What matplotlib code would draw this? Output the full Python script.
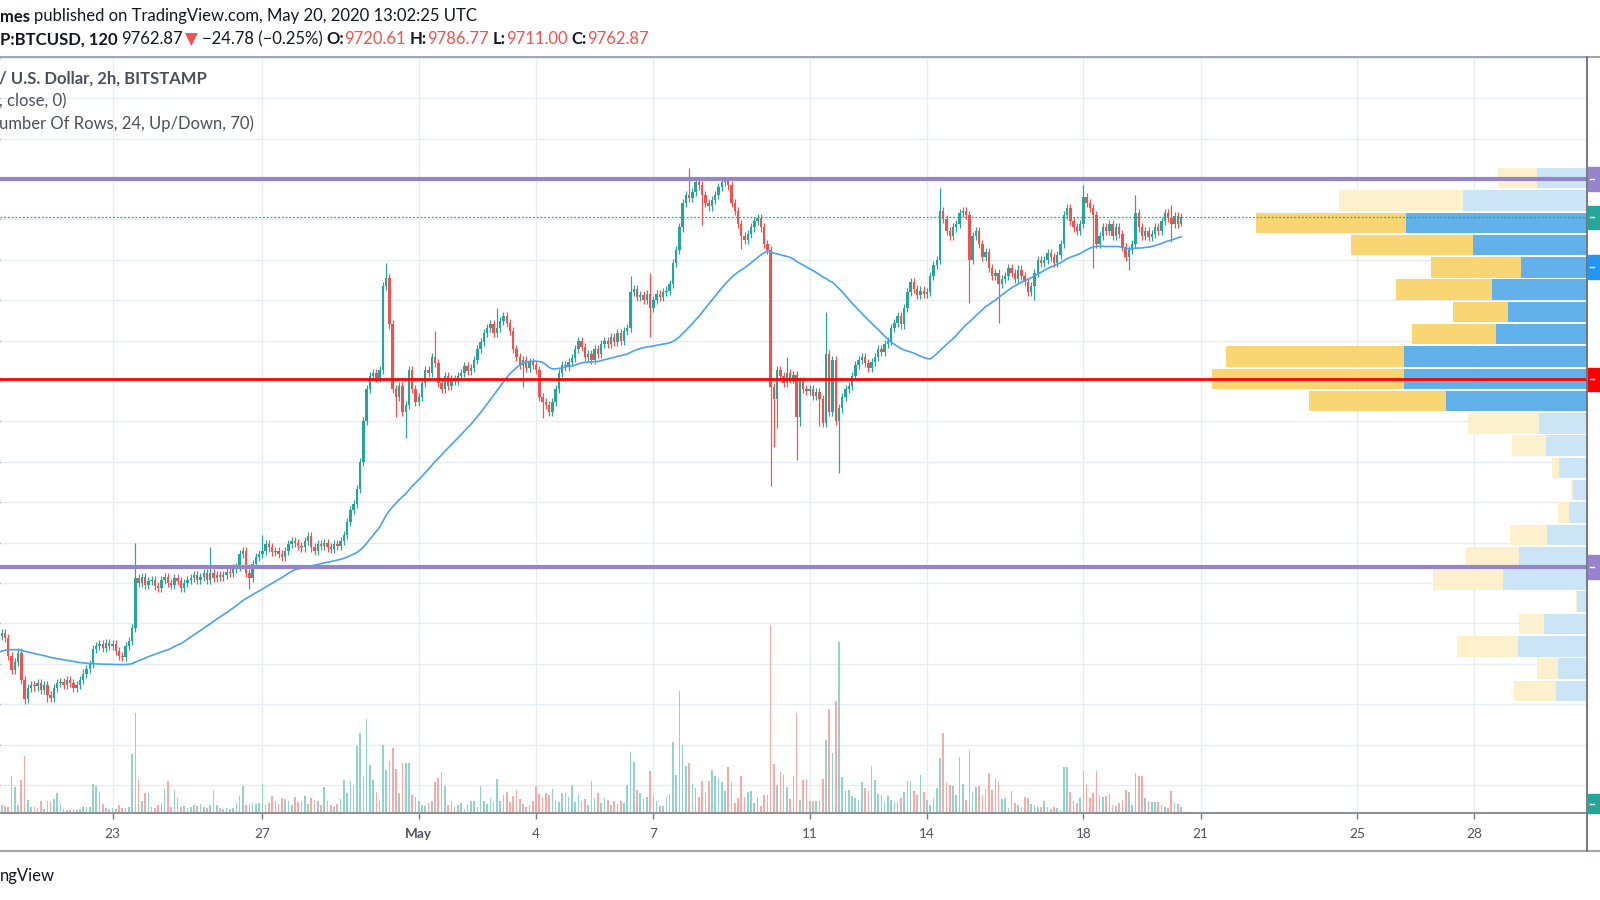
import numpy as np
import pandas as pd
import matplotlib
matplotlib.use("Agg")
import matplotlib.pyplot as plt
from matplotlib import transforms
from matplotlib.patches import Rectangle
from matplotlib.lines import Line2D

W, H = 1600, 900
FAM = ["Lato", "DejaVu Sans"]
plt.rcParams["font.family"] = FAM

# ---------------- data ----------------
# 2h closes before the visible window (only used for the 50-bar moving average)
prior_closes = [6850, 6880, 6900, 6950, 7000, 7050, 7080, 7100, 7090, 7110, 7080, 7100,
                7070, 7060, 7090, 7080, 7050, 7040, 7060, 7070, 7050, 7040, 7060, 7050,
                7040, 7060, 7080, 7100, 7120, 7150, 7170, 7160, 7150, 7130, 7120, 7100,
                7090, 7080, 7070, 7060, 7050, 7060, 7080, 7090, 7100, 7110, 7100, 7110, 7120]
first_open = 7120

# 2h closes, Apr 20 02:00 -> May 20 12:00 (two bars missing on Apr 25)
closes = (
    [7170, 7190, 7160, 7050, 6960, 7010, 7070, 6900, 6780, 6850, 6870] +                 # Apr 20
    [6860, 6880, 6840, 6870, 6810, 6790, 6850, 6880, 6890, 6870, 6900, 6880] +           # Apr 21
    [6850, 6870, 6900, 6940, 6970, 7000, 7090, 7110, 7120, 7100, 7130, 7110] +           # Apr 22
    [7120, 7080, 7050, 7040, 7110, 7140, 7220, 7530, 7500, 7540, 7490, 7510] +           # Apr 23
    [7520, 7480, 7470, 7520, 7540, 7500, 7490, 7530, 7510, 7470, 7500, 7520] +           # Apr 24
    [7530, 7550, 7520, 7540, 7560, 7520, 7560, 7530, 7550, 7540] +                       # Apr 25
    [7550, 7570, 7560, 7590, 7600, 7680, 7700, 7560, 7530, 7620, 7660, 7680] +           # Apr 26
    [7700, 7740, 7720, 7690, 7700, 7680, 7660, 7700, 7740, 7760, 7750, 7730] +           # Apr 27
    [7720, 7760, 7790, 7720, 7700, 7740, 7730, 7750, 7720, 7710, 7740, 7730] +           # Apr 28
    [7760, 7800, 7880, 7950, 7990, 8080, 8250, 8500, 8700, 8780, 8800, 8770] +           # Apr 29
    [8820, 9340, 9390, 9100, 8700, 8650, 8720, 8560, 8600, 8820, 8700, 8620] +           # Apr 30
    [8650, 8740, 8820, 8800, 8900, 8860, 8740, 8700, 8780, 8720, 8760, 8750] +           # May 1
    [8780, 8800, 8840, 8810, 8830, 8880, 8950, 8990, 9050, 9080, 9100, 9050] +           # May 2
    [9080, 9120, 9150, 9110, 9060, 8950, 8900, 8850, 8880, 8830, 8870, 8850] +           # May 3
    [8820, 8650, 8620, 8600, 8560, 8620, 8700, 8800, 8850, 8840, 8870, 8890] +           # May 4
    [8950, 9000, 8960, 8900, 8920, 8880, 8950, 8920, 8980, 9000, 8980, 9020] +           # May 5
    [8990, 9050, 9000, 9060, 9080, 9300, 9320, 9270, 9280, 9250, 9290, 9200] +           # May 6
    [9250, 9290, 9270, 9300, 9310, 9350, 9480, 9560, 9700, 9850, 9900, 9880] +           # May 7
    [9920, 9980, 9960, 9900, 9850, 9830, 9870, 9900, 9950, 9980, 9990, 9960] +           # May 8
    [9850, 9800, 9720, 9650, 9620, 9660, 9700, 9740, 9760, 9700, 9600, 9560] +           # May 9
    [8710, 8640, 8820, 8780, 8740, 8800, 8760, 8790, 8530, 8750, 8700, 8690] +           # May 10
    [8700, 8660, 8680, 8640, 8490, 8920, 8560, 8880, 8500, 8580, 8650, 8700] +           # May 11
    [8720, 8780, 8850, 8880, 8900, 8860, 8830, 8870, 8900, 8950, 8930, 8980] +           # May 12
    [9000, 9080, 9110, 9150, 9100, 9200, 9300, 9360, 9320, 9280, 9310, 9290] +           # May 13
    [9300, 9400, 9470, 9500, 9800, 9750, 9680, 9650, 9700, 9720, 9790, 9800] +           # May 14
    [9780, 9500, 9650, 9680, 9600, 9520, 9550, 9450, 9400, 9420, 9350, 9380] +           # May 15
    [9400, 9450, 9420, 9380, 9440, 9400, 9360, 9300, 9340, 9420, 9500, 9480] +           # May 16
    [9500, 9540, 9520, 9480, 9530, 9600, 9780, 9820, 9740, 9700, 9680, 9720] +           # May 17
    [9890, 9850, 9820, 9780, 9600, 9650, 9700, 9680, 9720, 9650, 9700, 9660] +           # May 18
    [9580, 9520, 9560, 9600, 9790, 9700, 9650, 9680, 9640, 9660, 9700, 9680] +           # May 19
    [9740, 9790, 9760, 9720, 9770, 9720.61, 9762.87]                                       # May 20
)

volumes = (
    [8, 8, 7, 6, 37, 26, 8, 33, 57, 13, 6] +
    [6, 5, 12, 4, 12, 12, 14, 20, 10, 4, 3, 3] +
    [4, 3, 4, 6, 6, 6, 29, 27, 21, 9, 5, 4] +
    [5, 4, 8, 5, 5, 6, 59, 100, 33, 12, 20, 20] +
    [6, 5, 8, 10, 24, 32, 6, 23, 15, 6, 7, 5] +
    [6, 8, 7, 9, 6, 5, 8, 23, 8, 5] +
    [4, 5, 4, 5, 10, 17, 27, 8, 9, 10, 9, 10] +
    [29, 8, 10, 17, 12, 9, 15, 14, 12, 8, 16, 11] +
    [12, 17, 9, 15, 13, 12, 8, 26, 12, 8, 6, 9] +
    [14, 33, 20, 32, 27, 67, 80, 37, 94, 48, 33, 21] +
    [12, 68, 43, 52, 65, 44, 20, 50, 50, 50, 18, 16] +
    [12, 8, 7, 10, 12, 31, 35, 41, 27, 8, 12, 6] +
    [8, 10, 4, 9, 12, 12, 6, 27, 12, 9, 15, 11] +
    [34, 12, 18, 21, 11, 17, 23, 14, 9, 6, 8, 12] +
    [27, 19, 16, 20, 18, 24, 12, 11, 20, 20, 16, 28] +
    [11, 19, 12, 14, 8, 32, 15, 20, 10, 15, 13, 8] +
    [12, 9, 12, 10, 28, 61, 51, 23, 20, 14, 16, 42] +
    [17, 12, 7, 7, 16, 19, 71, 38, 122, 68, 47, 50] +
    [29, 25, 16, 32, 21, 32, 43, 37, 35, 31, 22, 46] +
    [31, 10, 15, 37, 16, 21, 22, 10, 16, 7, 18, 18] +
    [188, 49, 28, 41, 38, 26, 14, 37, 100, 13, 33, 34] +
    [12, 12, 12, 12, 34, 73, 104, 60, 112, 171, 36, 22] +
    [23, 17, 15, 13, 31, 25, 22, 47, 33, 19, 18, 11] +
    [17, 13, 11, 11, 15, 21, 32, 32, 22, 18, 38, 21] +
    [13, 8, 15, 25, 55, 80, 31, 28, 27, 18, 56, 29] +
    [13, 63, 21, 26, 27, 18, 24, 40, 23, 34, 32, 14] +
    [15, 5, 22, 10, 8, 6, 16, 15, 9, 8, 6, 6] +
    [12, 6, 4, 6, 5, 3, 46, 46, 21, 12, 10, 15] +
    [42, 29, 15, 20, 42, 18, 16, 17, 19, 8, 7, 10] +
    [13, 23, 21, 8, 40, 37, 37, 15, 12, 11, 11, 11] +
    [8, 6, 5, 22, 10, 9, 6]
)

# notable wick extremes (bar index -> price)
wick_high = {42: 7750, 65: 7720, 81: 7800, 119: 9480, 134: 9060, 153: 9200, 194: 9400,
             200: 9420, 212: 10070, 242: 8900, 254: 9180, 289: 9945, 333: 9965,
             349: 9900, 360: 9840, 363: 9786.77}
wick_low = {8: 6750, 15: 6765, 77: 7460, 122: 8530, 125: 8400, 161: 8715, 167: 8520,
            200: 9020, 216: 9715, 228: 9570, 237: 8100, 238: 8340, 239: 8460, 245: 8260,
            246: 8470, 252: 8470, 258: 8180, 298: 9235, 307: 9110, 318: 9250, 336: 9450,
            347: 9440, 360: 9610, 363: 9711.00}

# bar timestamps (two Bitstamp bars missing on Apr 25)
missing = ["2020-04-25 08:00", "2020-04-25 10:00"]
bar_times = pd.date_range("2020-04-20 02:00", "2020-05-31 00:00", freq="2h").drop(pd.to_datetime(missing))

tick_days = ["2020-04-20", "2020-04-23", "2020-04-27", "2020-05-01", "2020-05-04", "2020-05-07",
             "2020-05-11", "2020-05-14", "2020-05-18", "2020-05-21", "2020-05-25", "2020-05-28"]
tick_labels = ["20", "23", "27", "May", "4", "7", "11", "14", "18", "21", "25", "28"]

# horizontal levels
resistance = 10000
support_red = 8760
support_low = 7600
last_price = 9762.87

# visible volume profile (24 rows, up / down volume)
vp_low, vp_high = 6764, 10074
vp_up = [31, 29, 69, 43, 10, 84, 68, 40, 18, 14, 28, 41, 48, 141, 183, 183, 91, 79, 95, 66, 114, 181, 124, 50]
vp_down = [42, 21, 61, 25, 1, 70, 53, 37, 11, 2, 7, 34, 71, 137, 192, 178, 84, 55, 96, 90, 122, 150, 124, 39]
value_area = (13, 21)

# ---------------- figure ----------------
fig = plt.figure(figsize=(16, 9), dpi=100)
fig.patch.set_facecolor("white")
ax_l, ax_b, ax_w, ax_h = 0.0, 1 - 813 / H, 1587 / W, (813 - 57) / H
ax = fig.add_axes([ax_l, ax_b, ax_w, ax_h])
ax.set_facecolor("none")

GREEN, RED = "#26a69a", "#ef5350"
closes = np.array(closes, float)
opens = np.concatenate([[first_open], closes[:-1]])
idx = np.arange(len(closes))
up = closes >= opens
body_top = np.maximum(opens, closes)
body_bot = np.minimum(opens, closes)
highs = np.array([wick_high.get(i, body_top[i] + 25) for i in idx])
lows = np.array([wick_low.get(i, body_bot[i] - 25) for i in idx])
cols = np.where(up, GREEN, RED)

ax.vlines(idx, lows, highs, colors=cols, lw=0.85, zorder=3)
ax.bar(idx, np.maximum(body_top - body_bot, 8), bottom=body_bot, width=0.74, color=cols,
       linewidth=0, zorder=3.1)

ma = pd.Series(np.concatenate([prior_closes, closes])).rolling(50).mean().to_numpy()[len(prior_closes):]
ax.plot(idx, ma, color="#4aa3f0", lw=1.2, zorder=3.5)

ax.set_xlim(0.46, 487.6)
ax.set_ylim(6077, 10755)

# grid
tick_pos = [bar_times.get_indexer([pd.Timestamp(d)], method="bfill")[0] if pd.Timestamp(d) >= bar_times[0] else -1
            for d in tick_days]
ax.set_xticks(tick_pos)
ax.set_xticklabels(tick_labels)
ax.set_yticks(np.arange(6250, 10751, 250))
ax.yaxis.tick_right()
ax.set_yticklabels([])
ax.grid(True, color="#e6edf3", lw=1.0, zorder=0)
ax.set_axisbelow(True)
ax.tick_params(axis="x", length=4, width=1, color="#787b86", pad=7, labelsize=9.8, labelcolor="#50535e")
ax.tick_params(axis="y", length=4, width=1, color="#787b86", pad=6)
for lab in ax.get_xticklabels():
    if lab.get_text() == "May":
        lab.set_fontweight("bold")
for s in ax.spines.values():
    s.set_visible(False)

# horizontal levels
ax.axhline(resistance, color="#9584cc", lw=3.0, zorder=5)
ax.axhline(support_low, color="#9584cc", lw=3.0, zorder=5)
ax.axhline(support_red, color="#ff0000", lw=2.0, zorder=5)
ax.axhline(last_price, color=GREEN, lw=0.9, ls=(0, (1.5, 1.5)), zorder=5)

# volume profile
blend = transforms.blended_transform_factory(ax.transAxes, ax.transData)
edges = np.linspace(vp_low, vp_high, len(vp_up) + 1)
rh = edges[1] - edges[0]
centers = (edges[:-1] + edges[1:]) / 2
vp_tot_max = max(u + d for u, d in zip(vp_up, vp_down))
frac_up = np.array(vp_up) / vp_tot_max * 0.2363
frac_dn = np.array(vp_down) / vp_tot_max * 0.2363
in_va = np.array([value_area[0] <= i <= value_area[1] for i in range(len(vp_up))])
blue_c = np.where(in_va, "#5aade9", "#c9e3f6")
yel_c = np.where(in_va, "#fad36b", "#fdf0cb")
ax.barh(centers, frac_up, height=rh * 0.92, left=1 - frac_up, color=blue_c, transform=blend,
        linewidth=0, zorder=2, alpha=0.95)
ax.barh(centers, frac_dn, height=rh * 0.92, left=1 - frac_up - frac_dn, color=yel_c, transform=blend,
        linewidth=0, zorder=2, alpha=0.95)
ax.set_xlim(0.46, 487.6)
ax.set_ylim(6077, 10755)

# volume
ax_v = ax.twinx()
ax_v.set_facecolor("none")
vcols = np.where(up, "#93d3cc", "#f8aaa8")
ax_v.bar(idx, volumes, width=0.5, color=vcols, linewidth=0)
ax_v.set_ylim(0, max(volumes) * 4.02)
ax_v.set_yticks([])
for s in ax_v.spines.values():
    s.set_visible(False)
ax_v.set_xlim(0.46, 487.6)

# frame lines (figure pixels)
def fline(x0, y0, x1, y1, color, lw):
    fig.add_artist(Line2D([x0 / W, x1 / W], [1 - y0 / H, 1 - y1 / H], color=color, lw=lw,
                          transform=fig.transFigure))

fline(0, 57, W, 57, "#a3a6ae", 1.5)
fline(0, 813, W, 813, "#8f929b", 1.5)
fline(0, 851, W, 851, "#a3a6ae", 1.5)
fline(1587, 57, 1587, 851, "#6d7079", 1.3)

# right-edge price tags
tb = transforms.blended_transform_factory(fig.transFigure, ax.transData)
tags = [(resistance, "#9584cc"), (last_price, GREEN), (9455, "#2196f3"),
        (support_red, "#ff0000"), (support_low, "#9584cc")]
for price, c in tags:
    fig.add_artist(Rectangle((1588 / W, price - 72), 12 / W, 144, transform=tb, color=c, zorder=6))
    fig.add_artist(Line2D([1590 / W, 1594 / W], [price, price], transform=tb, color="white", lw=1, zorder=7))
tv = transforms.blended_transform_factory(fig.transFigure, ax.transAxes)
fig.add_artist(Rectangle((1588 / W, 0.0), 12 / W, 0.025, transform=tv, color=GREEN, zorder=6))
fig.add_artist(Line2D([1590 / W, 1594 / W], [0.0125, 0.0125], transform=tv, color="white", lw=1, zorder=7))

# header text
renderer = fig.canvas.get_renderer()

def runs(x_px, y_px, parts, size=12.0):
    x = x_px
    for txt, color, weight in parts:
        t = fig.text(x / W, 1 - y_px / H, txt, color=color, fontweight=weight, fontsize=size,
                     va="center", ha="left", family=FAM)
        x += t.get_window_extent(renderer=renderer).width
    return x

DARK, GRAY = "#131722", "#4c505b"
SP = 4
x = runs(0, 16.5, [("mes", DARK, "bold")])
runs(x + SP, 16.5, [("published on TradingView.com, May 20, 2020 13:02:25 UTC", DARK, "normal")])
x = runs(0, 39.5, [("P:BTCUSD, 120", DARK, "bold")])
x = runs(x + SP, 39.5, [("9762.87", DARK, "normal")])
x = runs(x + 2, 39.5, [("\u25bc", RED, "normal")])
x = runs(x + SP, 39.5, [("\u221224.78 (\u22120.25%)", DARK, "normal")])
x = runs(x + SP, 39.5, [("O:", DARK, "bold"), ("9720.61", RED, "normal")])
x = runs(x + SP, 39.5, [("H:", DARK, "bold"), ("9786.77", RED, "normal")])
x = runs(x + SP, 39.5, [("L:", DARK, "bold"), ("9711.00", RED, "normal")])
x = runs(x + SP, 39.5, [("C:", DARK, "bold"), ("9762.87", RED, "normal")])

runs(-1, 79, [("/ U.S. Dollar, 2h, BITSTAMP", GRAY, "bold")])
runs(-1, 101.5, [(", close, 0)", GRAY, "normal")])
runs(-1, 124, [("umber Of Rows, 24, Up/Down, 70)", GRAY, "normal")])
runs(0, 876, [("ngView", DARK, "normal")])

fig.savefig("out.png", dpi=100)
